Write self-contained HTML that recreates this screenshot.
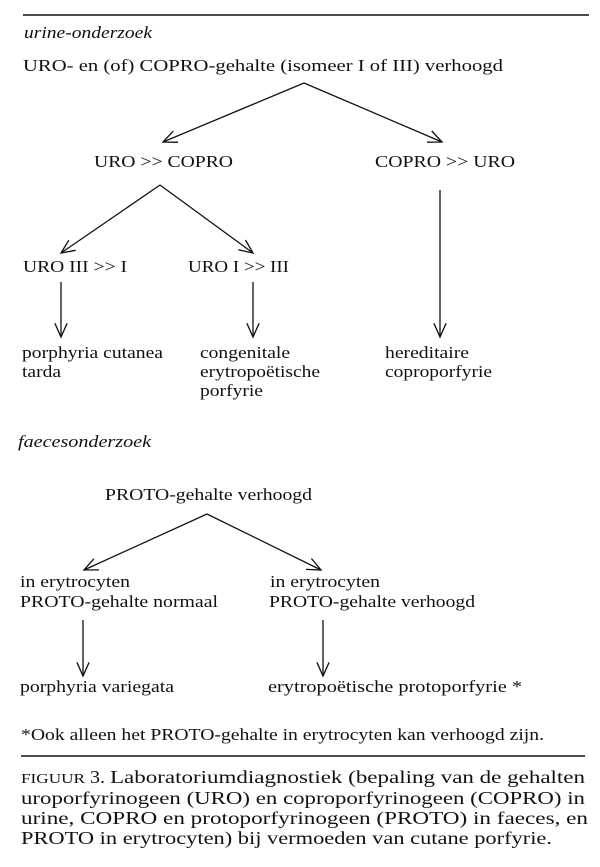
<!DOCTYPE html>
<html><head><meta charset="utf-8"><style>
html,body{margin:0;padding:0;background:#fff;}
svg{display:block;}
text{font-family:"Liberation Serif","Times New Roman",Tinos,Times,serif;fill:#111;}
.t{font-size:17px;}
.i{font-size:17px;font-style:italic;}
.c{font-size:18px;}
line,polyline{stroke:#111;stroke-width:1.3;fill:none;}
</style></head><body>
<svg width="600" height="867" viewBox="0 0 600 867" xmlns="http://www.w3.org/2000/svg" font-family="Liberation Serif, Times New Roman, serif">
<line x1="23" y1="15" x2="589" y2="15" style="stroke-width:1.6"/>
<text class="i" x="24" y="38" textLength="128" lengthAdjust="spacingAndGlyphs">urine-onderzoek</text>
<text class="t" x="23" y="71" textLength="480" lengthAdjust="spacingAndGlyphs">URO- en (of) COPRO-gehalte (isomeer I of III) verhoogd</text>

<line x1="304" y1="83" x2="163" y2="142"/>
<polyline points="178,142.3 163,142 173.3,131.1"/>
<line x1="304" y1="83" x2="442" y2="142"/>
<polyline points="431.8,131 442,142 427,142.2"/>

<text class="t" x="94" y="167" textLength="139" lengthAdjust="spacingAndGlyphs">URO &gt;&gt; COPRO</text>
<text class="t" x="375" y="167" textLength="140" lengthAdjust="spacingAndGlyphs">COPRO &gt;&gt; URO</text>

<line x1="160" y1="185" x2="61" y2="253"/>
<polyline points="75.7,250.3 61,253 68.8,240.2"/>
<line x1="160" y1="185" x2="253" y2="253"/>
<polyline points="245.5,240 253,253 238.3,249.8"/>

<line x1="440" y1="190" x2="440" y2="337"/>
<polyline points="433.9,323.3 440,337 446.1,323.3"/>

<text class="t" x="23" y="272" textLength="104" lengthAdjust="spacingAndGlyphs">URO III &gt;&gt; I</text>
<text class="t" x="188" y="272" textLength="101" lengthAdjust="spacingAndGlyphs">URO I &gt;&gt; III</text>

<line x1="61" y1="282" x2="61" y2="337"/>
<polyline points="54.9,323.3 61,337 67.1,323.3"/>
<line x1="253" y1="282" x2="253" y2="337"/>
<polyline points="246.9,323.3 253,337 259.1,323.3"/>

<text class="t" x="22" y="358" textLength="141" lengthAdjust="spacingAndGlyphs">porphyria cutanea</text>
<text class="t" x="22" y="377" textLength="39" lengthAdjust="spacingAndGlyphs">tarda</text>
<text class="t" x="200" y="358" textLength="90" lengthAdjust="spacingAndGlyphs">congenitale</text>
<text class="t" x="200" y="377" textLength="120" lengthAdjust="spacingAndGlyphs">erytropoëtische</text>
<text class="t" x="200" y="396" textLength="63" lengthAdjust="spacingAndGlyphs">porfyrie</text>
<text class="t" x="385" y="358" textLength="84" lengthAdjust="spacingAndGlyphs">hereditaire</text>
<text class="t" x="385" y="377" textLength="107" lengthAdjust="spacingAndGlyphs">coproporfyrie</text>

<text class="i" x="18" y="447" textLength="133" lengthAdjust="spacingAndGlyphs">faecesonderzoek</text>
<text class="t" x="105" y="500" textLength="207" lengthAdjust="spacingAndGlyphs">PROTO-gehalte verhoogd</text>

<line x1="207" y1="514" x2="84" y2="570"/>
<polyline points="99,569.9 84,570 93.9,558.8"/>
<line x1="207" y1="514" x2="321" y2="570"/>
<polyline points="311.4,558.5 321,570 306,569.4"/>

<text class="t" x="20" y="587" textLength="110" lengthAdjust="spacingAndGlyphs">in erytrocyten</text>
<text class="t" x="20" y="607" textLength="198" lengthAdjust="spacingAndGlyphs">PROTO-gehalte normaal</text>
<text class="t" x="270" y="587" textLength="110" lengthAdjust="spacingAndGlyphs">in erytrocyten</text>
<text class="t" x="269" y="607" textLength="206" lengthAdjust="spacingAndGlyphs">PROTO-gehalte verhoogd</text>

<line x1="83" y1="620" x2="83" y2="676"/>
<polyline points="76.9,662.3 83,676 89.1,662.3"/>
<line x1="323" y1="620" x2="323" y2="676"/>
<polyline points="316.9,662.3 323,676 329.1,662.3"/>

<text class="t" x="20" y="692" textLength="154" lengthAdjust="spacingAndGlyphs">porphyria variegata</text>
<text class="t" x="268" y="692" textLength="254" lengthAdjust="spacingAndGlyphs">erytropoëtische protoporfyrie *</text>

<text class="t" x="21" y="740" textLength="523" lengthAdjust="spacingAndGlyphs">*Ook alleen het PROTO-gehalte in erytrocyten kan verhoogd zijn.</text>
<line x1="21" y1="756" x2="585" y2="756" style="stroke-width:1.6"/>

<text class="c" x="21" y="783" style="font-size:14px" textLength="64" lengthAdjust="spacingAndGlyphs">FIGUUR</text>
<text class="c" x="90" y="783" textLength="15" lengthAdjust="spacingAndGlyphs">3.</text>
<text class="c" x="110" y="783" textLength="475" lengthAdjust="spacingAndGlyphs">Laboratoriumdiagnostiek (bepaling van de gehalten</text>
<text class="c" x="21" y="804" textLength="564" lengthAdjust="spacingAndGlyphs">uroporfyrinogeen (URO) en coproporfyrinogeen (COPRO) in</text>
<text class="c" x="21" y="824" textLength="567" lengthAdjust="spacingAndGlyphs">urine, COPRO en protoporfyrinogeen (PROTO) in faeces, en</text>
<text class="c" x="21" y="844" textLength="531" lengthAdjust="spacingAndGlyphs">PROTO in erytrocyten) bij vermoeden van cutane porfyrie.</text>
</svg>
</body></html>
